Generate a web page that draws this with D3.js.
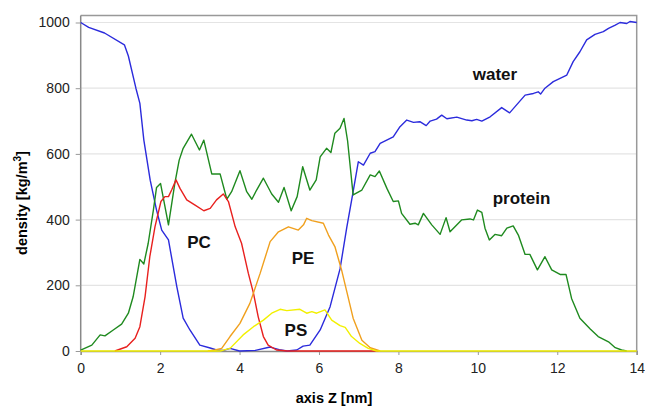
<!DOCTYPE html>
<html>
<head>
<meta charset="utf-8">
<script src="https://cdn.jsdelivr.net/npm/d3@7"></script>
<style>
  body { margin: 0; background: #fff; }
  text { font-family: "Liberation Sans", Arial, sans-serif; }
</style>
</head>
<body>
<svg id="chart" width="645" height="408"></svg>
<script>
// density profiles along the membrane normal, [z (nm), density (kg/m3)]
var water = [[0,1000],[0.2,985],[0.6,968],[1.1,932],[1.2,898],[1.39,800],[1.49,754],[1.59,642],[1.75,520],[1.91,429],[2.04,368],[2.21,338],[2.42,196],[2.58,100],[2.75,64],[3.0,18],[3.26,9],[3.42,3],[3.6,2],[3.76,8],[4.0,0],[4.4,2],[4.77,12],[5.0,4],[5.2,0],[5.44,3],[5.6,15],[5.77,18],[6.03,64],[6.28,135],[6.53,250],[6.7,376],[6.86,485],[6.99,576],[7.12,566],[7.29,602],[7.41,607],[7.54,632],[7.87,652],[8.04,683],[8.21,703],[8.38,696],[8.54,698],[8.7,686],[8.8,700],[8.96,706],[9.09,718],[9.22,707],[9.47,712],[9.72,703],[9.85,701],[9.97,705],[10.1,700],[10.31,713],[10.6,741],[10.8,725],[11.19,779],[11.4,784],[11.52,789],[11.58,782],[11.69,800],[11.9,820],[12.24,840],[12.4,881],[12.57,911],[12.74,947],[12.95,964],[13.16,972],[13.29,982],[13.46,992],[13.58,1000],[13.75,997],[13.83,1003],[14,1000]];
var protein = [[0,3],[0.28,18],[0.49,49],[0.61,46],[0.82,64],[1.03,82],[1.2,115],[1.32,165],[1.49,279],[1.59,265],[1.7,328],[1.83,429],[1.91,498],[2.01,510],[2.21,384],[2.37,510],[2.48,581],[2.58,617],[2.79,660],[2.99,612],[3.1,642],[3.3,539],[3.51,539],[3.68,462],[3.8,485],[4.01,549],[4.18,485],[4.31,462],[4.43,490],[4.6,526],[4.81,478],[4.98,453],[5.12,498],[5.3,427],[5.45,470],[5.59,561],[5.77,490],[5.93,521],[6.03,591],[6.19,617],[6.3,604],[6.4,663],[6.53,678],[6.63,708],[6.72,640],[6.86,475],[7.08,490],[7.29,536],[7.41,531],[7.52,548],[7.71,495],[7.87,455],[8.0,457],[8.08,419],[8.29,386],[8.42,389],[8.5,384],[8.63,419],[8.84,384],[9.05,355],[9.2,406],[9.3,363],[9.59,399],[9.8,402],[9.89,399],[9.99,429],[10.1,422],[10.18,374],[10.29,338],[10.43,355],[10.6,351],[10.73,374],[10.89,381],[11.02,353],[11.19,294],[11.31,294],[11.5,247],[11.69,287],[11.86,247],[12.07,233],[12.22,233],[12.36,160],[12.57,100],[12.83,67],[13.03,44],[13.29,28],[13.46,10],[13.62,3],[13.75,0]];
var pc = [[0.86,0],[1.16,13],[1.37,39],[1.49,74],[1.62,165],[1.74,287],[1.87,378],[2.02,455],[2.12,470],[2.21,470],[2.29,490],[2.4,521],[2.5,495],[2.67,460],[2.88,444],[3.1,427],[3.26,434],[3.42,460],[3.59,478],[3.72,455],[3.89,378],[4.05,328],[4.22,237],[4.35,176],[4.47,104],[4.6,44],[4.72,18],[4.93,3],[5.2,0],[7.5,0]];
var pe = [[3.2,0],[3.38,3],[3.55,8],[3.76,44],[4.01,84],[4.26,145],[4.52,237],[4.77,333],[4.98,363],[5.23,378],[5.48,368],[5.61,384],[5.69,404],[5.82,397],[6.11,389],[6.24,353],[6.4,318],[6.57,246],[6.7,181],[6.86,100],[7.08,33],[7.29,10],[7.54,0]];
var ps = [[0,0],[3.51,0],[3.76,8],[4.09,49],[4.35,74],[4.6,94],[4.81,115],[5.02,127],[5.19,123],[5.52,127],[5.69,115],[5.82,120],[5.94,115],[6.15,125],[6.32,94],[6.53,77],[6.66,72],[6.82,44],[7.03,23],[7.24,8],[7.45,0],[14,0]];

var seriesNames = ["water", "protein", "PC", "PE", "PS"];
var seriesData  = [water, protein, pc, pe, ps];
var seriesColors = ["#2b2bdc", "#1f8a1f", "#e8201e", "#f0a01e", "#f2f000"];

var xTicks = [0, 2, 4, 6, 8, 10, 12, 14];
var yTicks = [0, 200, 400, 600, 800, 1000];

// curve labels: [text, z, density]
var labels = [["water", 10.43, 825], ["protein", 11.1, 447], ["PC", 2.98, 313], ["PE", 5.6, 265], ["PS", 5.42, 46]];

var svg = d3.select("#chart");

var x = d3.scaleLinear().domain([0, 14]).range([80.7, 636.7]);
var y = d3.scaleLinear().domain([0, 1000]).range([351, 22.5]);
var plotTop = 15.5; // frame sits a little above 1000

// grid
svg.append("g")
    .selectAll("line")
    .data(yTicks.filter(function(d) { return d > 0; }))
    .join("line")
    .attr("x1", x(0)).attr("x2", x(14))
    .attr("y1", function(d) { return y(d); })
    .attr("y2", function(d) { return y(d); })
    .style("stroke", "#e4e4e4")
    .style("stroke-width", 1.2);

// frame (top and right)
svg.append("path")
    .attr("d", "M" + x(0) + "," + plotTop + "H" + x(14) + "V" + y(0))
    .style("fill", "none")
    .style("stroke", "#999")
    .style("stroke-width", 1.5);

// axes
var xAxis = d3.axisBottom(x).tickValues(xTicks).tickSize(4).tickPadding(8).tickFormat(d3.format("d"));
var gx = svg.append("g").attr("transform", "translate(0," + y(0) + ")").call(xAxis);

var yAxis = d3.axisLeft(y).tickValues(yTicks).tickSize(5).tickPadding(6).tickFormat(d3.format("d"));
var gy = svg.append("g").attr("transform", "translate(" + x(0) + ",0)").call(yAxis);
gy.select(".domain").attr("d", "M0," + plotTop + "V" + y(0));

[gx, gy].forEach(function(g) {
    g.selectAll(".domain").style("stroke", "#888").style("stroke-width", 1.5);
    g.selectAll(".tick line").style("stroke", "#999");
    g.selectAll(".tick text")
        .style("font-family", "Liberation Sans, Arial, sans-serif")
        .style("font-size", "14px")
        .style("fill", "#222");
});

// lines
var line = d3.line()
    .x(function(d) { return x(d[0]); })
    .y(function(d) { return y(d[1]); });

svg.append("g")
    .selectAll("path")
    .data(seriesData)
    .join("path")
    .attr("d", line)
    .style("fill", "none")
    .style("stroke", function(d, i) { return seriesColors[i]; })
    .style("stroke-width", 1.4)
    .style("stroke-linejoin", "round");

// curve labels
svg.append("g")
    .selectAll("text")
    .data(labels)
    .join("text")
    .attr("x", function(d) { return x(d[1]); })
    .attr("y", function(d) { return y(d[2]); })
    .attr("text-anchor", "middle")
    .style("font-weight", "bold")
    .style("font-size", "17px")
    .style("fill", "#111")
    .text(function(d) { return d[0]; });

// axis titles
svg.append("text")
    .attr("x", 334).attr("y", 403)
    .attr("text-anchor", "middle")
    .style("font-weight", "bold")
    .style("font-size", "14.5px")
    .text("axis Z [nm]");

var yt = svg.append("text")
    .attr("transform", "translate(27,203) rotate(-90)")
    .attr("text-anchor", "middle")
    .style("font-weight", "bold")
    .style("font-size", "14.5px");
yt.append("tspan").text("density [kg/m");
yt.append("tspan").attr("dy", -6).style("font-size", "10px").text("3");
yt.append("tspan").attr("dy", 6).text("]");
</script>
</body>
</html>
